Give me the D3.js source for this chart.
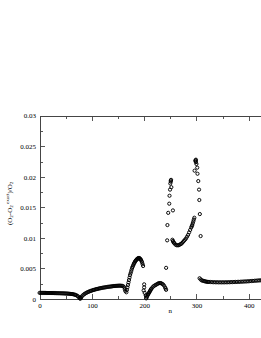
<!DOCTYPE html>
<html>
<head>
<meta charset="utf-8">
<script src="https://cdn.jsdelivr.net/npm/d3@7"></script>
<style>
  html, body { margin: 0; padding: 0; background: #fff; overflow: hidden; }
  .axis path, .axis line { stroke: #444; stroke-width: 0.9; shape-rendering: crispEdges; }
  .axis text { font-family: "Liberation Serif", serif; font-size: 7px; fill: #000; }
</style>
</head>
<body>
<div class="svg_container"></div>
<script>
// branch 1: flat part, n = 0..77
var n1 = [0,2,4,6,8,10,12,14,16,18,20,22,24,26,28,30,32,34,36,38,40,42,44,46,48,50,52,54,56,58,60,62,64,66,68,70,72,74,76,77];
var v1 = [0.00100,0.00100,0.00100,0.00100,0.00100,0.00100,0.00100,0.00099,0.00099,0.00099,0.00099,0.00098,0.00098,0.00098,0.00097,0.00097,0.00096,0.00096,0.00095,0.00095,0.00094,0.00093,0.00093,0.00092,0.00091,0.00090,0.00089,0.00088,0.00086,0.00085,0.00083,0.00081,0.00078,0.00074,0.00069,0.00062,0.00053,0.00040,0.00022,0.00010];

// branch 2: rising hump, n = 78..164
var n2 = [78,79,80,82,84,86,88,90,92,94,96,98,100,102,104,106,108,110,112,114,116,118,120,122,124,126,128,130,132,134,136,138,140,142,144,146,148,150,152,154,156,158,160,162,163,164];
var v2 = [0.00005,0.0002,0.00035,0.00055,0.0007,0.00083,0.00094,0.00104,0.00112,0.0012,0.00127,0.00133,0.00139,0.00145,0.0015,0.00155,0.0016,0.00164,0.00168,0.00172,0.00176,0.0018,0.00183,0.00186,0.00189,0.00192,0.00195,0.00198,0.002,0.00202,0.00204,0.00207,0.0021,0.00212,0.00213,0.00215,0.00216,0.00217,0.00218,0.00218,0.00217,0.00215,0.0021,0.0019,0.0016,0.0013];

// branch 3: first arc, n = 166..198
var n3 = [166,167,168,169,170,171,172,173,174,175,176,177,178,179,180,181,182,183,184,185,186,187,188,189,190,191,192,193,194,195,196,197,198];
var v3 = [0.0011,0.0015,0.0019,0.0023,0.0027,0.0031,0.0035,0.0039,0.0042,0.0045,0.0048,0.0051,0.0053,0.0055,0.0057,0.0059,0.0060,0.0062,0.0063,0.0064,0.0065,0.0066,0.0066,0.0067,0.0067,0.0067,0.0066,0.0065,0.0064,0.0062,0.0060,0.0057,0.0054];

// scattered points around n = 200
var n4 = [200,200,199,201,203];
var v4 = [0.0024,0.0019,0.0014,0.0010,0.0006];

// branch 5: second arc, n = 204..242
var n5 = [204,205,206,207,208,209,210,211,212,213,214,216,218,220,222,224,226,228,230,232,234,236,238,240,241,242];
var v5 = [0.0001,0.0003,0.0005,0.0007,0.0008,0.0010,0.0011,0.0013,0.0014,0.0016,0.0017,0.0019,0.0021,0.0022,0.0023,0.0024,0.0025,0.0026,0.0026,0.0026,0.0025,0.0024,0.0022,0.0019,0.0017,0.0015];

// steep branch near n = 245
var n6 = [242,244,244.5,246,248,248.5,249.5,250,251,251,251.5,252,255];
var v6 = [0.0051,0.0096,0.0121,0.0141,0.0156,0.0169,0.0179,0.0189,0.0192,0.0194,0.0195,0.0183,0.0145];

// branch 7: third arc, n = 254..296
var n7 = [254,255,256,257,258,260,262,264,266,268,270,272,274,276,278,280,282,284,286,288,290,291,292,293,294,295,296];
var v7 = [0.0097,0.0095,0.0093,0.0092,0.0091,0.0089,0.0088,0.0088,0.0088,0.0089,0.0090,0.0091,0.0093,0.0095,0.0097,0.0099,0.0102,0.0105,0.0109,0.0113,0.0117,0.0119,0.0121,0.0124,0.0127,0.0130,0.0133];

// steep branch near n = 300
var n8 = [296.5,298,298.5,299,299,300,301.5,302,303.5,305,305.5,306.5,308];
var v8 = [0.0210,0.0226,0.0227,0.0228,0.0224,0.0221,0.0215,0.0205,0.0193,0.0179,0.0162,0.0139,0.0103];

// branch 9: flat tail, n = 306..429
var n9 = [306,308,310,312,314,316,318,320,322,324,327,330,333,336,339,342,345,348,351,354,357,360,363,366,369,372,375,378,381,384,387,390,393,396,399,402,405,408,411,414,417,420,423,426,429];
var v9 = [0.0034,0.0032,0.00305,0.0030,0.00295,0.0029,0.00285,0.00282,0.0028,0.0028,0.00278,0.00276,0.00275,0.00274,0.00274,0.00273,0.00273,0.00273,0.00273,0.00273,0.00274,0.00274,0.00275,0.00276,0.00277,0.00278,0.00279,0.0028,0.00281,0.00282,0.00284,0.00285,0.00287,0.00288,0.0029,0.00292,0.00294,0.00296,0.00298,0.003,0.00302,0.00304,0.00306,0.00308,0.0031];

var xMajor = [0,100,200,300,400];
var xMinor = [50,150,250,350,450];
var yMajor = [0,0.005,0.01,0.015,0.02,0.025,0.03];
var yMinor = [0.0025,0.0075,0.0125,0.0175,0.0225,0.0275];

var branchesN = [n1,n2,n3,n4,n5,n6,n7,n8,n9];
var branchesV = [v1,v2,v3,v4,v5,v6,v7,v8,v9];
var data = [];
branchesN.forEach(function(ns, i) {
  ns.forEach(function(n, j) { data.push({ n: n, v: branchesV[i][j] }); });
});

// set the dimensions and margins of the graph
var margin = { top: 115.7, left: 39.6 },
  width = 261.4,
  height = 183.3;

var x = d3.scaleLinear().domain([0, 500]).range([0, width]);
var y = d3.scaleLinear().domain([0, 0.03]).range([height, 0]);

var svg = d3.select(".svg_container").append("svg")
  .attr("width", 261)
  .attr("height", 338)
  .append("g")
  .attr("transform", "translate(" + margin.left + "," + margin.top + ")");

// minor ticks first
svg.append("g").attr("class", "axis")
  .attr("transform", "translate(0," + height + ")")
  .call(d3.axisBottom(x).tickValues(xMinor).tickSizeInner(-3).tickSizeOuter(0).tickFormat(""));
svg.append("g").attr("class", "axis")
  .call(d3.axisTop(x).tickValues(xMinor).tickSizeInner(-3).tickSizeOuter(0).tickFormat(""));
svg.append("g").attr("class", "axis")
  .call(d3.axisLeft(y).tickValues(yMinor).tickSizeInner(-3).tickSizeOuter(0).tickFormat(""));

// major ticks
svg.append("g").attr("class", "axis")
  .attr("transform", "translate(0," + height + ")")
  .call(d3.axisBottom(x).tickValues(xMajor).tickSizeInner(-5).tickSizeOuter(0).tickPadding(4).tickFormat(d3.format("d")));
svg.append("g").attr("class", "axis")
  .call(d3.axisTop(x).tickValues(xMajor).tickSizeInner(-5).tickSizeOuter(0).tickFormat(""));
svg.append("g").attr("class", "axis")
  .call(d3.axisLeft(y).tickValues(yMajor).tickSizeInner(-5).tickSizeOuter(0).tickPadding(3.5)
    .tickFormat(function(d) { return d === 0 ? "0" : String(+d.toFixed(4)); }));

// the points
svg.selectAll(".dot")
  .data(data)
  .enter().append("circle")
  .attr("class", "dot")
  .attr("cx", function(d) { return x(d.n); })
  .attr("cy", function(d) { return y(d.v); })
  .attr("r", 1.6)
  .attr("fill", "none")
  .attr("stroke", "#000")
  .attr("stroke-width", 0.95);

// axis titles
svg.append("text")
  .attr("x", width / 2)
  .attr("y", height + 14)
  .attr("text-anchor", "middle")
  .style("font-family", "Liberation Serif, serif")
  .style("font-size", "7px")
  .style("fill", "#000")
  .text("n");

var ylab = svg.append("text")
  .attr("transform", "translate(" + (-28) + "," + (height / 2 - 4) + ") rotate(-90)")
  .attr("text-anchor", "middle")
  .style("font-family", "Liberation Serif, serif")
  .style("font-size", "7px")
  .style("fill", "#000");
ylab.append("tspan").text("(O");
ylab.append("tspan").attr("dy", 1.5).style("font-size", "5px").text("2");
ylab.append("tspan").attr("dy", -1.5).text("-O");
ylab.append("tspan").attr("dy", 1.5).style("font-size", "5px").text("2");
ylab.append("tspan").attr("dy", -4).style("font-size", "5px").text(" exact");
ylab.append("tspan").attr("dy", 2.5).text(")/O");
ylab.append("tspan").attr("dy", 1.5).style("font-size", "5px").text("2");
</script>
</body>
</html>
